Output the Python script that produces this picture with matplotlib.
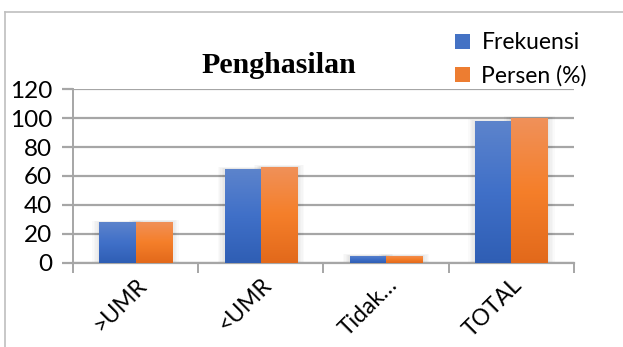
import numpy as np
import matplotlib
matplotlib.use("Agg")
from matplotlib import pyplot as plt
from matplotlib.patches import Patch, Rectangle
from matplotlib.colors import LinearSegmentedColormap
from matplotlib.lines import Line2D

categories = [">UMR", "<UMR", "Tidak…", "TOTAL"]
frekuensi = [28, 65, 5, 98]
persen = [28.57, 66.33, 5.10, 100]
series_names = ["Frekuensi", "Persen (%)"]

plt.rcParams["font.family"] = ["Lato", "DejaVu Sans"]

fig = plt.figure(figsize=(6.23, 3.47), dpi=100)
ax = fig.add_axes([0.1172, 0.2421, 0.8041, 0.5014])

x = np.arange(len(categories))
width = 0.29

blue_cmap = LinearSegmentedColormap.from_list("b", ["#2f5eb4", "#4070c8", "#5d84cc"])
orange_cmap = LinearSegmentedColormap.from_list("o", ["#e2691b", "#f57f2a", "#f0915a"])


def gradient_bars(xs, values, cmap):
    bars = ax.bar(xs, values, width, color="none", edgecolor="none", zorder=3)
    grad = np.linspace(0, 1, 256).reshape(-1, 1)
    for b in bars:
        x0, y0 = b.get_x(), b.get_y()
        w, h = b.get_width(), b.get_height()
        # soft shadow at the sides of the bar
        for k in range(1, 6):
            pad = 0.011 * k
            ax.add_patch(Rectangle((x0 - pad, y0), w + 2 * pad, h + 0.25 * k,
                                   facecolor="#000000", alpha=0.02,
                                   edgecolor="none", zorder=2.5))
        im = ax.imshow(grad, cmap=cmap, aspect="auto", origin="lower",
                       extent=[x0, x0 + w, y0, y0 + h], zorder=3)
        im.set_clip_path(b)
    return bars


gradient_bars(x - width / 2, frekuensi, blue_cmap)
gradient_bars(x + width / 2, persen, orange_cmap)

ax.set_xlim(-0.5, len(categories) - 0.5)
ax.set_ylim(0, 120)
ax.set_yticks(range(0, 121, 20))
ax.yaxis.grid(True, color="#a6a6a6", linewidth=1.6, zorder=0)
ax.set_axisbelow(True)

ax.set_xticks(x)
ax.set_xticklabels(categories, rotation=45, ha="right", va="top",
                   rotation_mode="anchor", fontsize=16.5)
ax.set_xticks(np.arange(-0.5, len(categories)), minor=True)
ax.tick_params(axis="x", which="major", length=0, pad=8)
ax.tick_params(axis="x", which="minor", length=7, width=1.4, color="#a6a6a6")
ax.tick_params(axis="y", length=8, width=1.6, color="#a6a6a6", labelsize=17.5, pad=7)

for side in ["top", "right"]:
    ax.spines[side].set_visible(False)
ax.spines["left"].set_color("#a6a6a6")
ax.spines["left"].set_linewidth(1.4)
ax.spines["left"].set_bounds(-2.5, 120)
ax.spines["bottom"].set_color("#a6a6a6")
ax.spines["bottom"].set_linewidth(1.6)

fig.text(0.447, 0.81, "Penghasilan", ha="center", va="center",
         fontsize=21.5, fontweight="bold", family="Liberation Serif")

handles = [Patch(facecolor="#4472c4"), Patch(facecolor="#ed7d31")]
fig.legend(handles, series_names, loc="upper left",
           bbox_to_anchor=(0.712, 0.94), frameon=False, fontsize=16.5,
           handlelength=0.65, handleheight=0.65, handletextpad=0.5,
           labelspacing=0.5, borderpad=0)

# outer chart frame
fig.add_artist(Line2D([0.008, 0.008], [0, 0.965], transform=fig.transFigure,
                      color="#bfbfbf", linewidth=1.2))
fig.add_artist(Line2D([0.008, 1.0], [0.965, 0.965], transform=fig.transFigure,
                      color="#bfbfbf", linewidth=1.2))

fig.savefig("out.png", dpi=100)
